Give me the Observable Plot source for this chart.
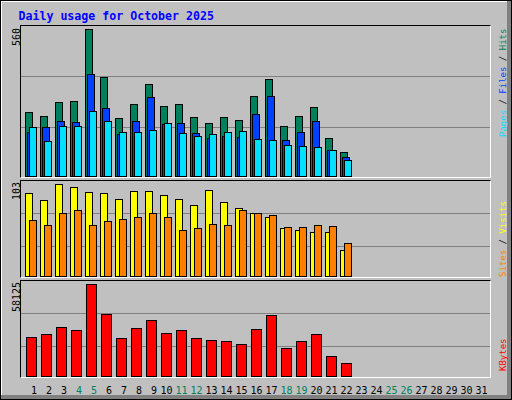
<!DOCTYPE html>
<html><head><meta charset="utf-8">
<script src="https://cdn.jsdelivr.net/npm/d3@7"></script>
<script src="https://cdn.jsdelivr.net/npm/@observablehq/plot@0.6"></script>
<style>
html,body{margin:0;padding:0;background:#fff;}
#chart{position:relative;width:512px;height:400px;background:#C0C0C0;overflow:hidden;}
#chart > *{position:absolute;}
</style></head><body><div id="chart"></div>
<script>
// ---- data (October 2025) ----
const days = d3.range(1, 32);
const hits   = [244,229,282,286,560,377,221,275,351,267,275,225,202,225,214,305,370,191,229,263,145,92];
const files  = [169,187,210,206,389,259,160,210,301,199,202,164,145,153,149,237,305,138,168,210,100,73];
const pages  = [187,134,191,191,248,210,168,168,176,202,164,153,160,168,172,141,138,119,115,111,100,62];
const visits = [93,85,103,100,94,93,86,95,95,91,86,80,96,83,76,70,66,54,51,49,49,29];
const sites  = [63,57,71,74,57,62,64,66,71,66,52,54,58,57,74,71,68,55,55,57,56,37];
const kbytes = [24420,26330,30780,28870,58125,39050,23790,30140,35230,26960,28870,23790,22510,21880,19970,29510,38410,17420,21880,26330,12340,8520];
const title = "Daily usage for October 2025";

const C = {hits:"#00805C", files:"#0040FF", pages:"#00E0FF", visits:"#FFFF00",
           sites:"#FF8000", kbytes:"#FF0000", grid:"#808080", weekend:"#00805C"};

const rows = hits.map((h, i) => ({day: i + 1, hits: h, files: files[i], pages: pages[i],
  visits: visits[i], sites: sites[i], kbytes: kbytes[i]}));
const isWeekend = d => [0, 6].includes(new Date(2025, 9, d).getDay());

const chart = document.getElementById("chart");
function box(css) { const e = document.createElement("div"); e.style.cssText = css; chart.appendChild(e); return e; }

// outer frame
box("left:0;top:0;width:510px;height:398px;border:1px solid #000;");
box("left:1px;top:1px;width:506px;height:1px;background:#fff;");
box("left:1px;top:1px;width:1px;height:394px;background:#fff;");
box("left:507px;top:1px;width:4px;height:398px;background:#808080;");
box("left:1px;top:395px;width:510px;height:4px;background:#808080;");

// panel frames (content 21..489)
const panels = [{top:25, h:151}, {top:180, h:96}, {top:280, h:96}];
panels.forEach(p => box(`left:20px;top:${p.top}px;width:469px;height:${p.h}px;border-top:1px solid #000;border-left:1px solid #000;border-right:1px solid #fff;border-bottom:1px solid #fff;`));
// grid lines
[76, 127, 213, 246, 313, 346].forEach(y => box(`left:21px;top:${y}px;width:469px;height:1px;background:${C.grid};`));

const X = {domain: [1, 31], range: [4, 454], axis: null};
const bar = (key, a, b) => Plot.rect(rows, {
  x1: d => d.day + a / 15, x2: d => d.day + b / 15,
  y1: () => 0, y2: key, fill: C[key], stroke: "#000", strokeWidth: 1, shapeRendering: "crispEdges"});

function place(svg, top) { svg.style.left = "21px"; svg.style.top = top + "px"; chart.appendChild(svg); }

const common = {width: 469, margin: 0, style: {background: "transparent", overflow: "visible"}};

place(Plot.plot({...common, height: 151, x: X,
  y: {domain: [0, d3.max(hits)], range: [150.5, 3.5], axis: null},
  marks: [bar("hits", 0.5, 7.5), bar("files", 2.5, 9.5), bar("pages", 4.5, 11.5)]}), 26);

place(Plot.plot({...common, height: 96, x: X,
  y: {domain: [0, d3.max(visits)], range: [95.5, 3.5], axis: null},
  marks: [bar("visits", 0.5, 7.5), bar("sites", 4.5, 11.5)]}), 181);

const lab = (filt, color) => Plot.text(days.filter(filt), {
  x: d => d + (d < 10 ? 8.5 : 6) / 15, frameAnchor: "bottom", dy: 16.5, lineAnchor: "bottom",
  text: d => String(d), fill: color, fontSize: 10, fontFamily: "DejaVu Sans Mono", textAnchor: "middle"});

place(Plot.plot({...common, height: 120, marginBottom: 24, x: X,
  y: {domain: [0, d3.max(kbytes)], range: [95.5, 3.5], axis: null},
  marks: [bar("kbytes", 1.5, 11.5), lab(d => !isWeekend(d), "#000"), lab(isWeekend, C.weekend)]}), 281);

// texts (title, rotated max labels, right-hand legends)
const NS = "http://www.w3.org/2000/svg";
const ov = document.createElementNS(NS, "svg");
ov.setAttribute("width", 512); ov.setAttribute("height", 400);
ov.style.cssText = "left:0;top:0;pointer-events:none;";
chart.appendChild(ov);
function txt(x, y, rot, anchor, size, weight, parts) {
  const t = document.createElementNS(NS, "text");
  t.setAttribute("transform", `translate(${x},${y}) rotate(${rot})`);
  t.setAttribute("text-anchor", anchor);
  t.setAttribute("font-family", "DejaVu Sans Mono");
  t.setAttribute("font-size", size);
  t.setAttribute("font-weight", weight);
  parts.forEach(([s, c]) => { const sp = document.createElementNS(NS, "tspan"); sp.setAttribute("fill", c); sp.textContent = s; t.appendChild(sp); });
  ov.appendChild(t);
}
txt(18.5, 19.5, 0, "start", 11.6, "bold", [[title, "#0000FF"]]);
txt(19.5, 28, -90, "end", 10, "normal", [[String(d3.max(hits)), "#000"]]);
txt(19.5, 182, -90, "end", 10, "normal", [[String(d3.max(visits)), "#000"]]);
txt(19.5, 282, -90, "end", 10, "normal", [[String(d3.max(kbytes)), "#000"]]);
txt(506, 137, -90, "start", 9, "normal", [["Pages", C.pages], [" / ", "#000"], ["Files", C.files], [" / ", "#000"], ["Hits", C.hits]]);
txt(506, 277, -90, "start", 9, "normal", [["Sites", C.sites], [" / ", "#000"], ["Visits", C.visits]]);
txt(506, 371, -90, "start", 9, "normal", [["KBytes", C.kbytes]]);
</script></body></html>
